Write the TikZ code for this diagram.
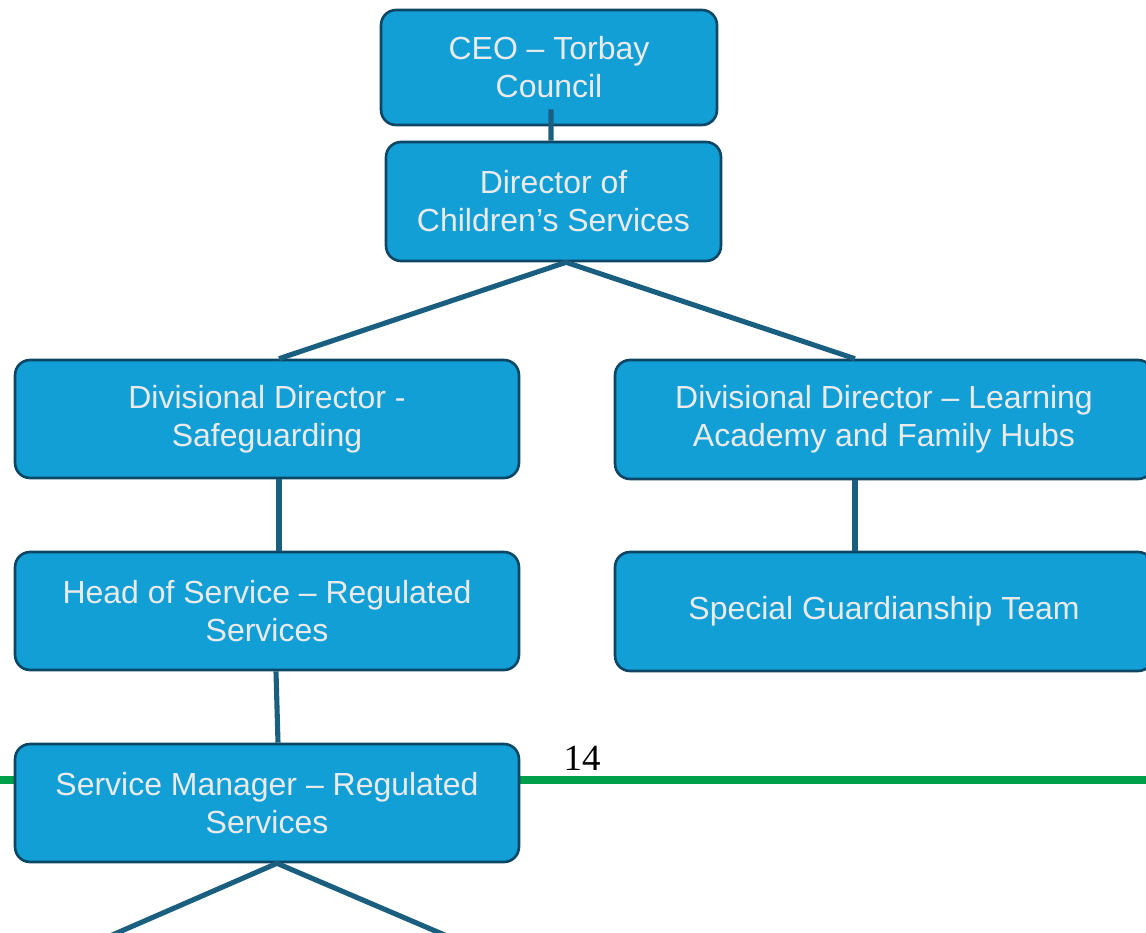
\documentclass[tikz,border=0pt]{standalone}
\usepackage{fontspec}
\setmainfont{Liberation Sans}
\newfontfamily\chiffre{Liberation Serif}
\usetikzlibrary{calc}
\definecolor{bleu}{HTML}{129FD6}
\definecolor{bord}{HTML}{0D4765}
\definecolor{trait}{HTML}{1B5F80}
\definecolor{texte}{HTML}{EAEAEA}
\definecolor{vert}{HTML}{00A04A}

\begin{document}
\begin{tikzpicture}[x=0.02cm, y=-0.02cm]
\tikzset{boite/.style={draw=bord, fill=bleu, line width=1.5pt, rounded corners=0.3cm, text=texte, align=center, inner sep=0pt, font=\fontsize{18.2}{21.6}\selectfont, minimum height=2.36cm}}
\tikzset{lien/.style={draw=trait, line width=2.9pt}}
\clip (0, 0) rectangle (1146, 933);
\draw[vert, line width=4.6pt] (0, 780) -- (1146, 780);
\node[font=\chiffre\fontsize{21}{24}\selectfont] (page) at (582, 758) {14};
\node[boite, minimum width=6.72cm, minimum height=2.3cm] (ceo) at (549, 67.5) {CEO -- Torbay\\Council};
\node[boite, minimum width=6.7cm, minimum height=2.38cm] (dcs) at (553.5, 201.5) {Director of\\Children’s Services};
\node[boite, minimum width=10.08cm] (ddsafe) at (267, 419) {Divisional Director -\\Safeguarding};
\node[boite, minimum width=10.76cm, minimum height=2.38cm] (ddlearn) at (884, 419.5) {Divisional Director -- Learning\\Academy and Family Hubs};
\node[boite, minimum width=10.08cm] (hos) at (267, 611) {Head of Service -- Regulated\\Services};
\node[boite, minimum width=10.76cm, minimum height=2.38cm] (sgt) at (884, 611.5) {Special Guardianship Team};
\node[boite, minimum width=10.08cm] (sm) at (267, 803) {Service Manager -- Regulated\\Services};
\coordinate (basg) at (110, 936);
\coordinate (basd) at (447, 936);
\draw[lien] ([xshift=0.04cm, yshift=0.34cm]ceo.south) -- ([xshift=-0.05cm]dcs.north);
\draw[lien] ([xshift=0.24cm]ddsafe.north) -- ([xshift=0.25cm]dcs.south) -- ([xshift=-0.58cm]ddlearn.north);
\draw[lien] ([xshift=0.24cm]ddsafe.south) -- ([xshift=0.24cm]hos.north);
\draw[lien] ([xshift=-0.58cm]ddlearn.south) -- ([xshift=-0.58cm]sgt.north);
\draw[lien] ([xshift=0.18cm]hos.south) -- ([xshift=0.22cm]sm.north);
\draw[lien] (basg) -- ([xshift=0.2cm]sm.south) -- (basd);
\end{tikzpicture}
\end{document}
